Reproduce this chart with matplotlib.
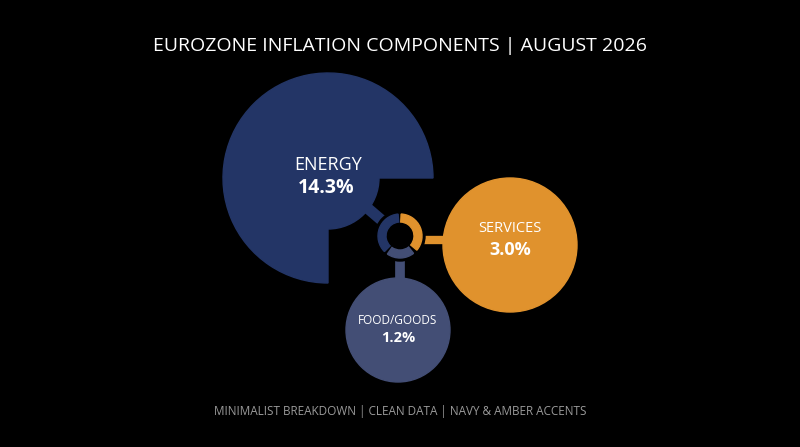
import matplotlib.pyplot as plt
import numpy as np
from matplotlib.patches import Circle, Wedge

labels = ['ENERGY', 'SERVICES', 'FOOD/GOODS']
values = [14.3, 3.0, 1.2]
colors = ['#233566', '#e0922d', '#434e75']

fig = plt.figure(figsize=(8, 4.47), dpi=100, facecolor='black')
ax = fig.add_axes([0, 0, 1, 1])
ax.set_xlim(0, 800)
ax.set_ylim(447, 0)
ax.set_facecolor('black')
ax.axis('off')

hub = (400, 236)
centers = [(328, 178), (510, 245), (398, 330)]
radii = [105, 67, 52]

# connectors
ax.plot([hub[0], 358], [hub[1], 200], color=colors[0], lw=8, zorder=1, solid_capstyle='butt')
ax.plot([hub[0], 445], [240, 240], color=colors[1], lw=6, zorder=1)
ax.plot([hub[0], hub[0]], [hub[1], 285], color=colors[2], lw=7, zorder=1)

# energy: full radius for three quarters, short quarter at lower right
ax.add_patch(Wedge(centers[0], radii[0], 90, 360, color=colors[0], zorder=2))
ax.add_patch(Wedge(centers[0], 51, 0, 90, color=colors[0], zorder=2))
for i in (1, 2):
    ax.add_patch(Circle(centers[i], radii[i], color=colors[i], zorder=4))

# hub ring (y axis inverted: angles run clockwise on screen)
ax.add_patch(Circle(hub, 25, color='black', zorder=4))
ring = [(-87, 40, colors[1]), (52, 125, colors[2]), (135, 265, colors[0])]
for t1, t2, col in ring:
    ax.add_patch(Wedge(hub, 22, t1, t2, width=8, color=col, zorder=5))

ax.text(328, 165, labels[0], color='white', fontsize=13, ha='center', va='center', family='Open Sans', zorder=6)
ax.text(326, 188, f'{values[0]}%', color='white', fontsize=14, fontweight='bold', ha='center', va='center', family='Open Sans', zorder=6)
ax.text(510, 228, labels[1], color='white', fontsize=10.5, ha='center', va='center', family='Open Sans', zorder=6)
ax.text(510, 250, f'{values[1]}%', color='white', fontsize=13, fontweight='bold', ha='center', va='center', family='Open Sans', zorder=6)
ax.text(398, 321, labels[2], color='white', fontsize=8.5, ha='center', va='center', family='Open Sans', zorder=6)
ax.text(398, 338, f'{values[2]}%', color='white', fontsize=10.5, fontweight='bold', ha='center', va='center', family='Open Sans', zorder=6)

ax.text(400, 46, 'EUROZONE INFLATION COMPONENTS | AUGUST 2026', color='white', fontsize=14, ha='center', va='center', family='Open Sans')
ax.text(400, 412, 'MINIMALIST BREAKDOWN | CLEAN DATA | NAVY & AMBER ACCENTS', color='#9a9a9a', fontsize=8.5, ha='center', va='center', family='Open Sans')

fig.savefig('out.png', facecolor='black')
